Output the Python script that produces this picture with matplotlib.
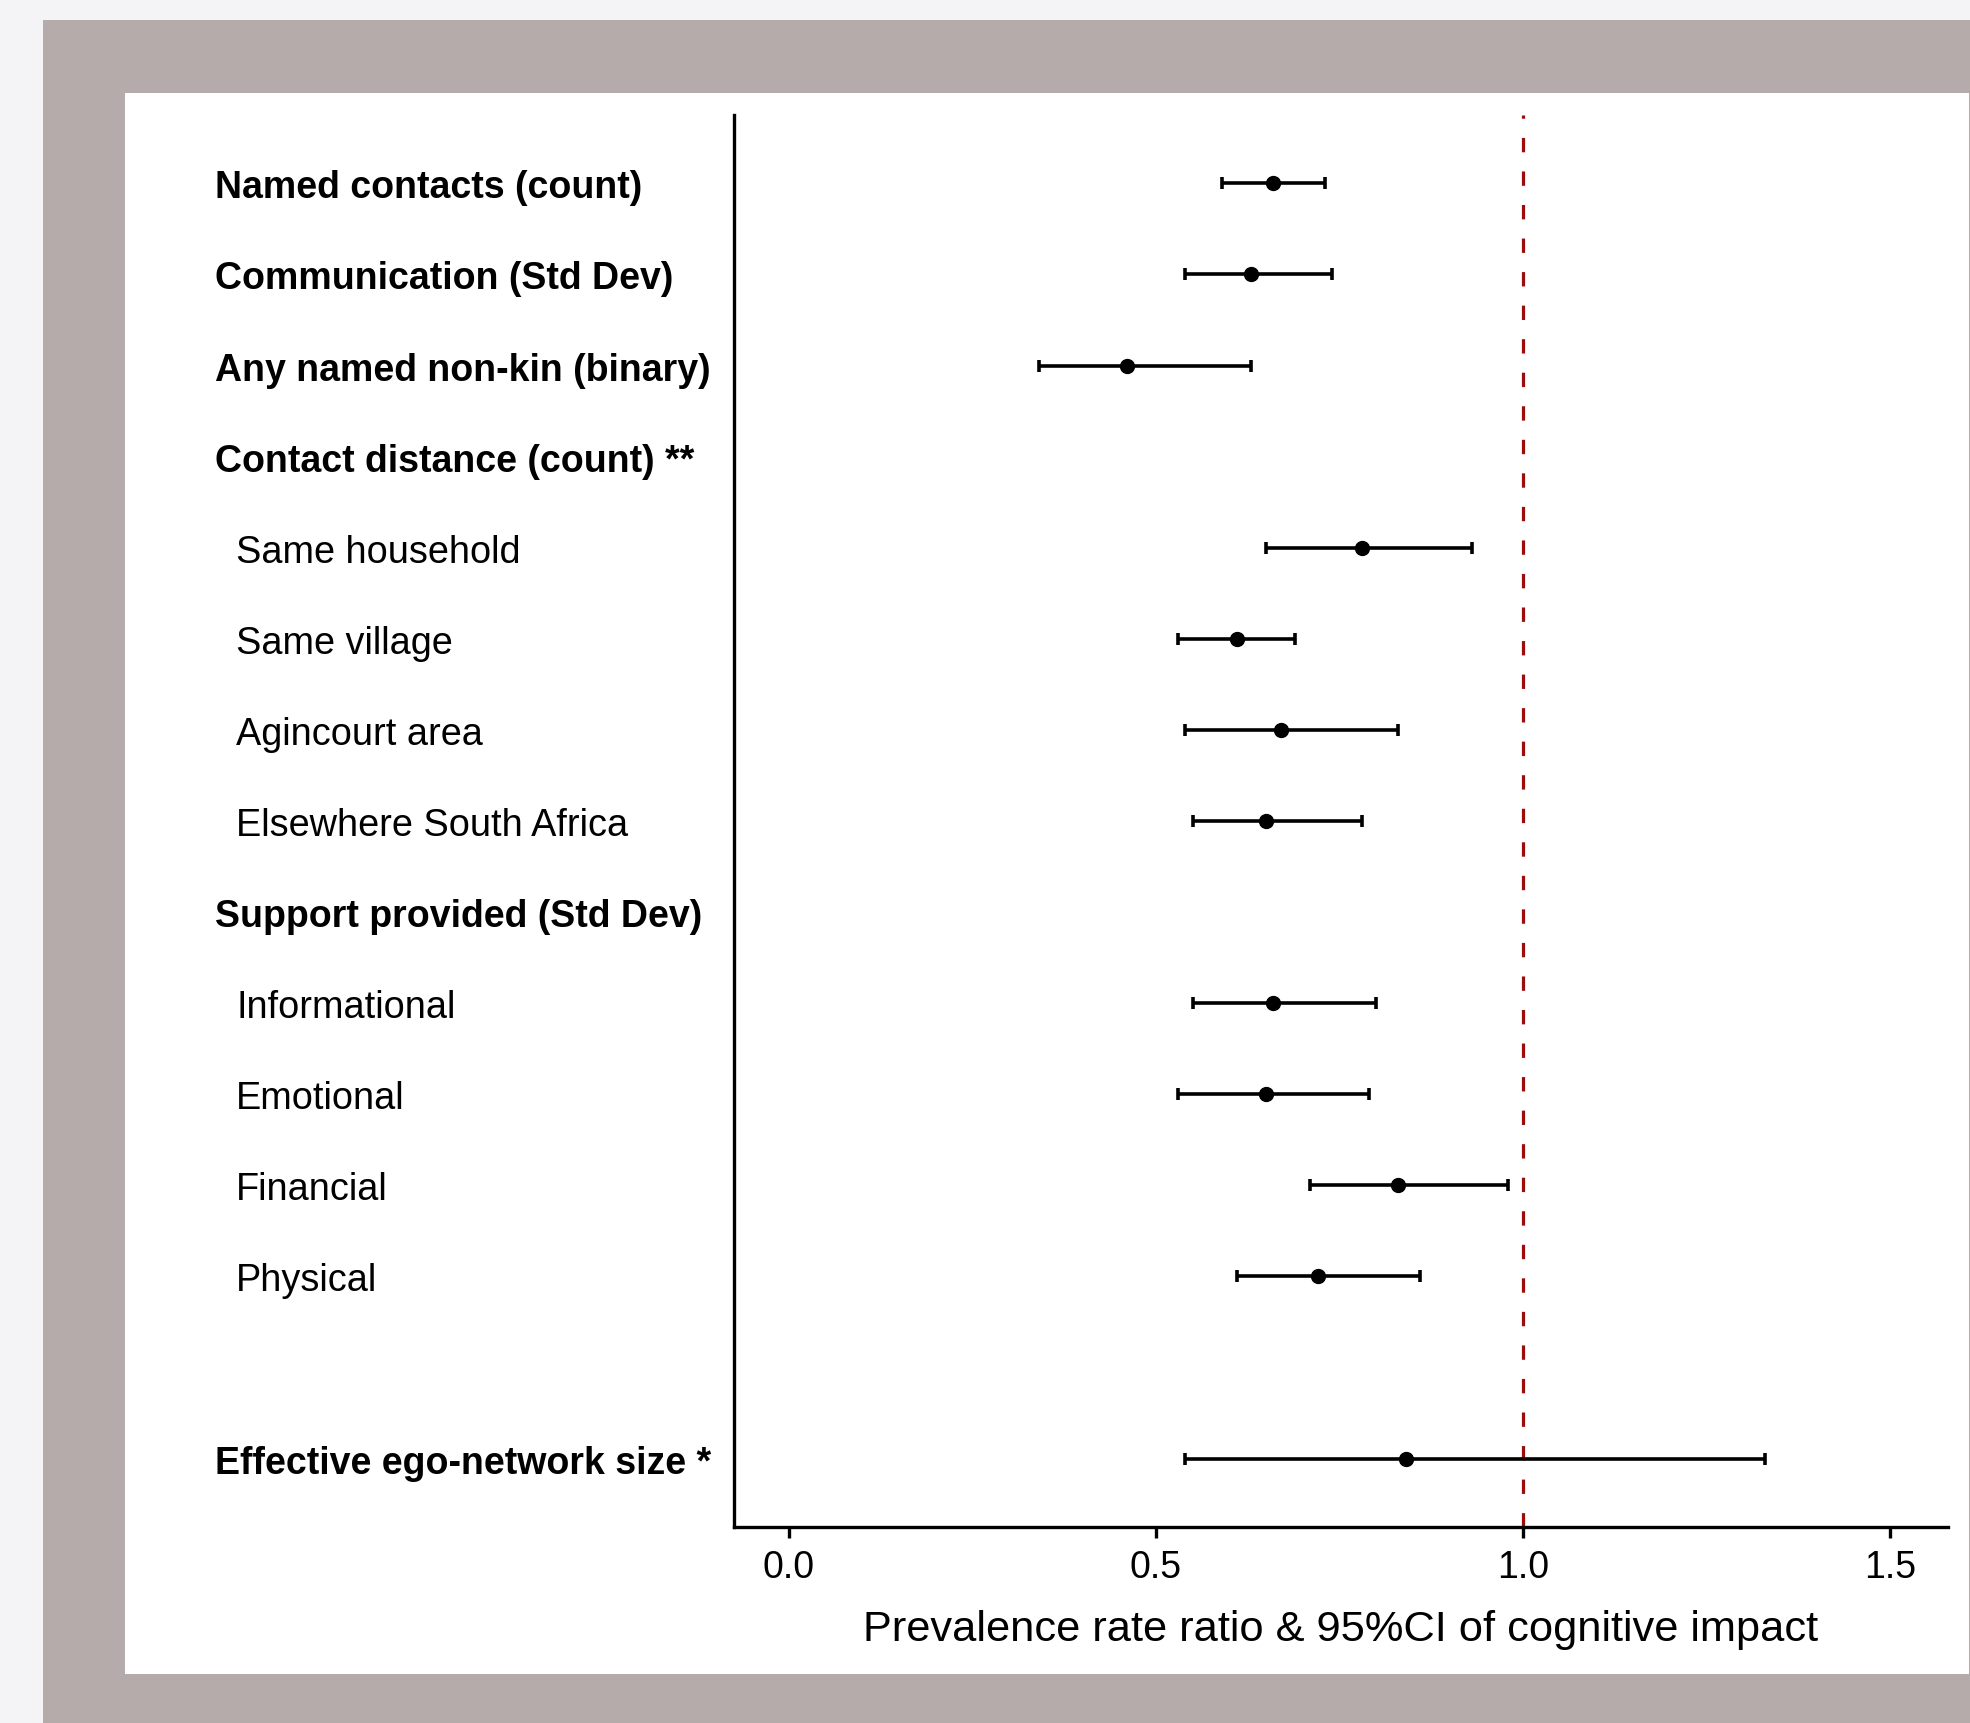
import matplotlib
matplotlib.use("Agg")
import matplotlib.pyplot as plt
from matplotlib.patches import Rectangle
import matplotlib.transforms as mtrans

plt.rcParams['font.family'] = ['Liberation Sans', 'DejaVu Sans']

# ---- data ----
labels = [
    "Named contacts (count)",
    "Communication (Std Dev)",
    "Any named non-kin (binary)",
    "Contact distance (count) **",
    "Same household",
    "Same village",
    "Agincourt area",
    "Elsewhere South Africa",
    "Support provided (Std Dev)",
    "Informational",
    "Emotional",
    "Financial",
    "Physical",
    "",
    "Effective ego-network size *",
]
is_header = [True, True, True, True, False, False, False, False, True,
             False, False, False, False, True, True]
estimate = [0.66, 0.63, 0.46, None, 0.78, 0.61, 0.67, 0.65, None,
            0.66, 0.65, 0.83, 0.72, None, 0.84]
ci_low = [0.59, 0.54, 0.34, None, 0.65, 0.53, 0.54, 0.55, None,
          0.55, 0.53, 0.71, 0.61, None, 0.54]
ci_high = [0.73, 0.74, 0.63, None, 0.93, 0.69, 0.83, 0.78, None,
           0.80, 0.79, 0.98, 0.86, None, 1.33]
xticks = [0.0, 0.5, 1.0, 1.5]
xtick_labels = ["0.0", "0.5", "1.0", "1.5"]
xlabel = "Prevalence rate ratio & 95%CI of cognitive impact"
ref_value = 1.0

W, H = 1970, 1724
fig = plt.figure(figsize=(W / 100, H / 100), dpi=100)
fig.patch.set_facecolor("#f4f4f6")

def px_rect(x0, y0, x1, y1, color):
    fig.patches.append(Rectangle((x0 / W, 1 - y1 / H), (x1 - x0) / W, (y1 - y0) / H,
                                 transform=fig.transFigure, facecolor=color,
                                 edgecolor="none", zorder=-10))

px_rect(43, 21, W, H, "#b4abaa")
px_rect(125, 94, 1969, 1675, "#ffffff")

ax_l, ax_r, ax_t, ax_b = 734, 1948, 116, 1528
ax = fig.add_axes([ax_l / W, 1 - ax_b / H, (ax_r - ax_l) / W, (ax_b - ax_t) / H])
ax.set_facecolor("none")

n = len(labels)
ypos = [n - i for i in range(n)]

for i in range(n):
    if estimate[i] is None:
        continue
    y = ypos[i]
    ax.errorbar([estimate[i]], [y],
                xerr=[[estimate[i] - ci_low[i]], [ci_high[i] - estimate[i]]],
                fmt='o', color='black', ms=10, elinewidth=2.6,
                capsize=4, capthick=2.6, zorder=3)

ax.axvline(ref_value, color="#9b0d0d", lw=2.3, dashes=(4.5, 6.0), zorder=2)

ax.set_xlim(-0.075, 1.579)
ax.set_ylim(0.25, n + 0.75)

ax.set_xticks(xticks)
ax.set_xticklabels(xtick_labels)
ax.set_yticks([])
for s in ["top", "right"]:
    ax.spines[s].set_visible(False)
for s in ["left", "bottom"]:
    ax.spines[s].set_linewidth(2.4)
ax.tick_params(axis='x', length=8, width=2.4, labelsize=27, pad=8)
ax.set_xlabel(xlabel, fontsize=31.2, labelpad=17)

trans = mtrans.blended_transform_factory(fig.transFigure, ax.transData)
for i in range(n):
    if not labels[i]:
        continue
    if is_header[i]:
        ax.text(215 / W, ypos[i], labels[i], transform=trans, fontsize=27,
                fontweight='bold', ha='left', va='center_baseline')
    else:
        ax.text(236 / W, ypos[i], labels[i], transform=trans, fontsize=27.3,
                ha='left', va='center_baseline')

fig.savefig("out.png", dpi=100, facecolor=fig.get_facecolor())
